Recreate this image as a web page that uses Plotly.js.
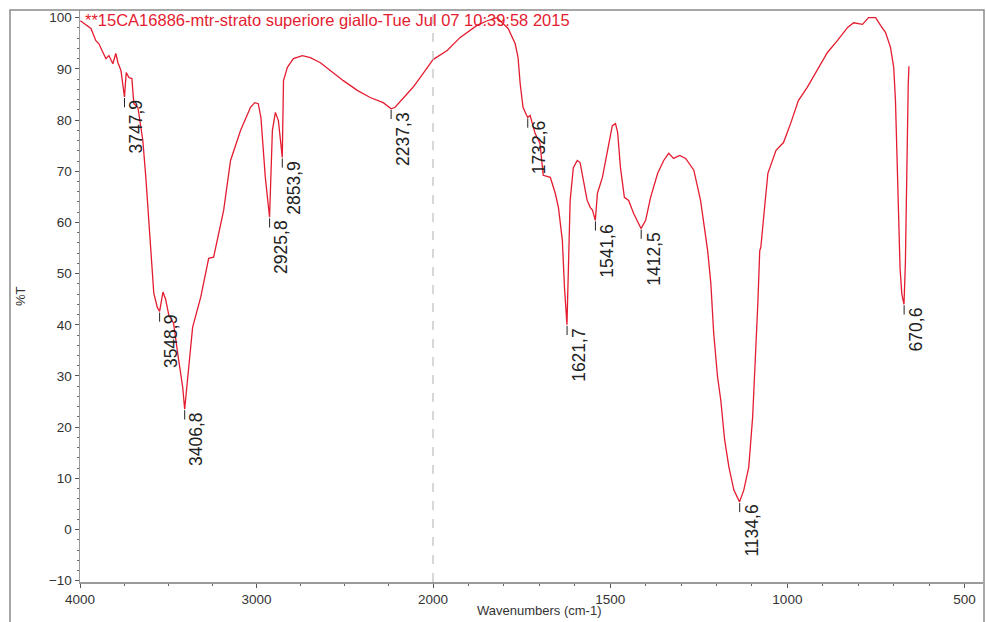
<!DOCTYPE html>
<html><head><meta charset="utf-8">
<script src="https://cdn.plot.ly/plotly-3.0.1.min.js"></script>
<style>html,body{margin:0;padding:0;background:#fff}</style>
</head><body><div id="chart" style="width:986px;height:622px"></div>
<script>
// Wavenumbers (cm-1), descending
const wavenumber = [3998, 3966, 3938, 3910, 3893, 3870, 3853, 3836, 3814, 3797, 3785, 3768, 3748, 3738, 3723, 3706, 3695, 3672, 3644, 3627, 3599, 3582, 3562, 3549, 3530, 3515, 3497, 3470, 3441, 3418, 3407, 3390, 3362, 3316, 3271, 3243, 3186, 3147, 3090, 3034, 3010, 2990, 2975, 2950, 2926, 2910, 2893, 2876, 2854, 2847, 2825, 2791, 2740, 2695, 2638, 2582, 2508, 2429, 2356, 2282, 2237, 2215, 2169, 2113, 2073, 2000, 1960, 1924, 1876, 1847, 1819, 1802, 1788, 1768, 1760, 1754, 1746, 1733, 1726, 1712, 1698, 1689, 1669, 1655, 1646, 1635, 1629, 1622, 1618, 1613, 1604, 1593, 1585, 1576, 1565, 1556, 1550, 1542, 1536, 1522, 1508, 1494, 1485, 1479, 1471, 1460, 1448, 1434, 1413, 1400, 1386, 1366, 1349, 1335, 1321, 1304, 1287, 1264, 1245, 1225, 1216, 1208, 1197, 1188, 1177, 1165, 1151, 1135, 1123, 1109, 1098, 1089, 1083, 1078, 1075, 1066, 1055, 1032, 1011, 991, 969, 944, 915, 887, 859, 830, 813, 788, 771, 751, 737, 723, 709, 700, 695, 690, 686, 682, 677, 671, 667, 664, 661, 659, 657];
// %T
const transmittance = [99.4, 98.5, 97.9, 95.5, 94.9, 93.2, 92.0, 92.6, 91.0, 93.0, 91.2, 89.7, 84.5, 89.3, 88.3, 88.1, 83.2, 82.5, 76.0, 68.8, 55.9, 46.2, 43.4, 42.6, 46.4, 45.0, 41.9, 40.3, 33.1, 27.8, 23.5, 29.8, 39.5, 45.4, 53.0, 53.2, 62.4, 72.1, 78.0, 82.5, 83.4, 83.2, 80.5, 68.8, 61.0, 78.0, 81.5, 79.9, 72.7, 87.7, 90.3, 92.0, 92.6, 92.2, 91.2, 89.7, 87.7, 85.8, 84.4, 83.4, 82.2, 82.5, 84.2, 86.4, 88.3, 91.8, 93.6, 96.1, 98.5, 99.4, 100.0, 98.8, 97.9, 94.9, 92.2, 87.1, 82.5, 80.5, 80.9, 77.4, 75.4, 69.2, 68.8, 65.7, 62.9, 56.5, 47.3, 40.0, 51.2, 64.3, 70.7, 72.1, 71.7, 68.2, 64.3, 62.9, 62.4, 60.4, 65.7, 68.8, 73.5, 78.9, 79.3, 77.6, 70.7, 64.9, 64.3, 61.8, 58.8, 60.4, 64.9, 69.6, 72.1, 73.5, 72.5, 73.1, 72.5, 70.2, 64.3, 54.5, 48.1, 38.4, 29.8, 25.3, 17.5, 12.2, 7.7, 5.4, 7.7, 12.2, 22.0, 35.0, 44.8, 54.5, 55.1, 61.7, 69.6, 74.1, 75.6, 79.3, 83.8, 86.4, 90.0, 93.2, 95.5, 98.1, 99.0, 98.7, 100.0, 100.0, 98.5, 97.1, 94.2, 90.3, 83.8, 72.0, 60.0, 51.0, 46.0, 44.0, 52.0, 67.0, 80.0, 87.0, 90.5];

const peakWn = [3747.9, 3548.9, 3406.8, 2925.8, 2853.9, 2237.3, 1732.6, 1621.7, 1541.6, 1412.5, 1134.6, 670.6];
const peakT = [84.5, 42.6, 23.5, 61.0, 72.7, 82.2, 80.5, 40.0, 60.4, 58.8, 5.4, 44.0];
const peakLabels = ["3747,9", "3548,9", "3406,8", "2925,8", "2853,9", "2237,3", "1732,6", "1621,7", "1541,6", "1412,5", "1134,6", "670,6"];

const xTicksHigh = [4000, 3000];
const xTicksLow = [2000, 1500, 1000, 500];
const BREAK = 2000;
const titleText = "**15CA16886-mtr-strato superiore giallo-Tue Jul 07 10:39:58 2015";

const RED = "rgb(228,28,48)";
const hiX = [], hiY = [], loX = [], loY = [];
wavenumber.forEach((w, i) => {
  if (w >= BREAK) { hiX.push(w); hiY.push(transmittance[i]); }
  if (w <= BREAK) { loX.push(w); loY.push(transmittance[i]); }
});
const tkHiX = [], tkHiY = [], tkLoX = [], tkLoY = [];
peakWn.forEach((w, i) => {
  const t = peakT[i];
  if (w >= BREAK) { tkHiX.push(w, w, null); tkHiY.push(t - 0.2, t - 2.0, null); }
  else { tkLoX.push(w, w, null); tkLoY.push(t - 0.2, t - 2.0, null); }
});

const traces = [
  {x: hiX, y: hiY, xaxis: 'x', yaxis: 'y', mode: 'lines', line: {color: RED, width: 1.3}, hoverinfo: 'skip'},
  {x: loX, y: loY, xaxis: 'x2', yaxis: 'y', mode: 'lines', line: {color: RED, width: 1.3}, hoverinfo: 'skip'},
  {x: tkHiX, y: tkHiY, xaxis: 'x', yaxis: 'y', mode: 'lines', line: {color: '#222', width: 1}, hoverinfo: 'skip'},
  {x: tkLoX, y: tkLoY, xaxis: 'x2', yaxis: 'y', mode: 'lines', line: {color: '#222', width: 1}, hoverinfo: 'skip'}
];

const FONT = 'Liberation Sans, Arial, sans-serif';
const L = 80, R = 3, T = 10, B = 40, W = 986, H = 622;
const pw = W - L - R, ph = H - T - B;
const split = 353 / pw;

const annotations = peakWn.map((w, i) => ({
  xref: w >= BREAK ? 'x' : 'x2', yref: 'y', x: w, y: peakT[i],
  text: peakLabels[i], textangle: -90, showarrow: false,
  xanchor: 'left', yanchor: 'top', xshift: 0, yshift: -1,
  font: {family: FONT, size: 17.5, color: '#222'}
}));
annotations.push({xref: 'paper', yref: 'paper', x: 3 / pw, y: 1 - 10 / ph, xanchor: 'left', yanchor: 'middle',
  text: titleText, showarrow: false, font: {family: FONT, size: 16.5, color: RED}});
annotations.push({xref: 'paper', yref: 'paper', x: -60 / pw, y: 0.5, xanchor: 'center', yanchor: 'middle',
  text: '%T', textangle: -90, showarrow: false, font: {family: FONT, size: 13, color: '#333'}});
annotations.push({xref: 'paper', yref: 'paper', x: (539 - L) / pw, y: -28 / ph, xanchor: 'center', yanchor: 'middle',
  text: 'Wavenumbers (cm-1)', showarrow: false, font: {family: FONT, size: 13, color: '#333'}});

const axCommon = {
  showgrid: false, zeroline: false, showline: true, linecolor: '#9a9a9a', linewidth: 1.5,
  ticks: 'outside', ticklen: 4, tickcolor: '#555', tickfont: {family: FONT, size: 13.5, color: '#333'}
};

const layout = {
  width: W, height: H, margin: {l: L, r: R, t: T, b: B},
  paper_bgcolor: '#fff', plot_bgcolor: '#fff', showlegend: false,
  xaxis: Object.assign({}, axCommon, {domain: [0, split], range: [4000, 2000], anchor: 'y',
    tickmode: 'array', tickvals: xTicksHigh, ticktext: xTicksHigh.map(String),
    minor: {ticks: 'outside', ticklen: 2, tickcolor: '#666', tick0: 0, dtick: 250}}),
  xaxis2: Object.assign({}, axCommon, {domain: [split, 1], range: [2000, 448], anchor: 'y',
    tickmode: 'array', tickvals: xTicksLow, ticktext: xTicksLow.map(String),
    minor: {ticks: 'outside', ticklen: 2, tickcolor: '#666', tick0: 0, dtick: 100}}),
  yaxis: Object.assign({}, axCommon, {range: [-10.25, 101.5], tick0: 0, dtick: 10, ticklen: 4, anchor: 'x',
    minor: {ticks: 'outside', ticklen: 2, tickcolor: '#666', tick0: 0, dtick: 2}}),
  shapes: [
    {type: 'line', xref: 'paper', yref: 'paper', x0: split, x1: split, y0: 0, y1: 1,
     line: {color: '#b0b0b0', width: 1, dash: 'dash'}},
    {type: 'rect', xref: 'paper', yref: 'paper', x0: -70 / pw, x1: 1 + 1 / pw, y0: -0.08, y1: 1,
     line: {color: '#8a8a8a', width: 1.5}}
  ],
  annotations: annotations
};

Plotly.newPlot('chart', traces, layout, {displayModeBar: false, staticPlot: true});
</script>
</body></html>
